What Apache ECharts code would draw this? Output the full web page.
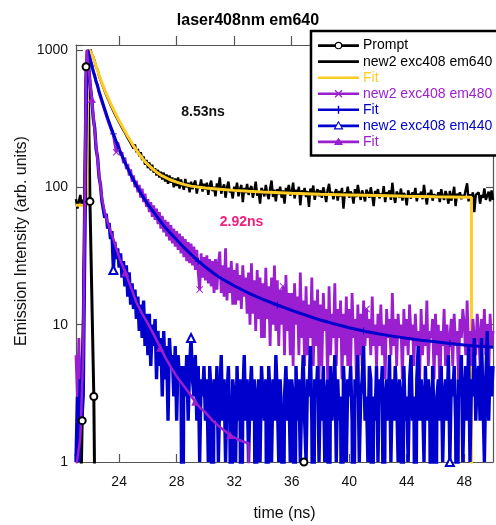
<!DOCTYPE html>
<html><head><meta charset="utf-8">
<script src="https://cdn.jsdelivr.net/npm/echarts@6/dist/echarts.min.js"></script>
<style>html,body{margin:0;padding:0;background:#fff}#c{width:496px;height:525px}</style>
</head><body><div id="c"></div>
<script>
// ---------- data ----------
const T0 = 21.0, DT = 0.1;            // sampling grid of the measured decays (ns), one row = 1 ns
const em640 = [
 82,70,79,88,74,81,77,85,300,900,
 1010,925,890,830,745,720,650,630,570,555,
 500,495,445,440,400,398,360,362,325,328,
 298,300,272,275,250,252,228,232,210,213,
 192,205,180,190,168,180,158,168,146,158,
 138,152,133,146,128,138,122,134,118,130,
 114,128,110,124,106,122,108,118,100,116,
 102,118,98,114,104,96,115,100,108,92,
 110,97,106,112,90,104,99,114,93,106,
 96,108,88,103,112,94,101,86,107,98,
 118,90,99,105,84,100,110,92,96,83,
 101,93,108,86,97,104,78,99,91,106,
 88,97,102,84,95,110,87,93,76,99,
 94,86,104,90,82,98,112,85,96,79,
 97,89,101,84,95,76,99,93,104,87,
 92,108,83,96,89,101,74,95,88,99,
 85,94,72,98,88,103,81,92,97,86,
 95,84,100,90,78,96,106,87,93,82,
 91,97,80,94,86,99,70,92,88,101,
 84,93,89,76,97,85,104,90,81,95,
 88,79,96,91,84,100,87,73,94,89,
 97,83,90,86,102,78,92,88,95,81,
 108,86,77,93,89,84,98,80,91,87,
 74,95,88,83,92,86,99,79,90,85,
 93,82,104,87,75,91,84,96,80,89,
 89,84,92,78,97,86,81,94,87,76,
 94,80,88,101,73,90,85,92,82,88,
 85,96,107,79,89,83,92,66,88,91,
 92,76,88,84,98,81,87,93,79,95,
 81];
const em480 = [
 6,3,8,2,5,9,60,420,1000,900,
 830,790,690,660,580,560,490,480,420,410,
 360,355,310,312,270,275,238,240,180,212,
 195,172,180,150,165,136,148,122,135,110,
 122,100,112,92,104,84,98,78,90,72,
 82,66,78,61,74,58,70,54,66,50,
 62,47,58,44,56,41,53,39,50,37,
 48,35,46,33,44,31,42,29,40,28,
 39,27,37,25,35,24,18,33,22,31,
 21,32,20,30,19,29,17,30,18,28,
 34,17,27,16,36,15,26,17,29,14,
 25,14,28,15,23,13,27,16,22,12,
 24,10,28,12,21,9,25,11,22,8,
 20,8,26,11,19,7,22,10,27,9,
 21,7,18,10,19,6,23,9,17,6,
 17,5,20,10,16,6,24,8,15,5,
 19,6,14,8,22,5,15,7,18,4,
 14,5,17,9,13,4,19,6,12,8,
 20,5,13,8,15,4,12,6,16,5,
 13,5,17,8,11,4,14,6,12,5,
 15,7,13,8,11,6,16,7,10,5,
 12,7,14,6,10,4,13,8,11,6,
 17,7,11,5,12,8,10,4,13,7,
 11,6,14,8,10,5,12,7,9,4,
 13,6,10,7,15,5,9,8,11,4,
 12,6,10,3,9,7,13,5,10,6,
 8,11,5,12,7,9,4,11,8,13,
 10,6,15,7,9,5,11,8,6,12,
 9,5,11,7,13,6,10,4,12,7,
 9];
const em440 = [
 1,3,1,4,2,3,30,500,1000,700,
 540,430,320,270,190,165,120,104,80,78,
 60,64,50,55,42,48,25,40,30,36,
 26,33,22,29,19,27,16,24,14,20,
 13,18,11,16,9,14,8,15,7,12,
 6,12,5,10,7,11,4,9,5,8,
 3,9,4,7,2,8,5,6,3,7,
 2,6,4,5,0,5,3,6,2,5,
 8,4,3,6,2,5,1,4,3,5,
 2,4,1,5,3,0,4,2,5,1,
 3,6,2,4,1,3,5,2,0,4,
 3,1,5,2,4,0,3,6,2,4,
 1,3,5,2,4,0,3,4,1,5,
 3,2,4,0,5,3,1,4,2,6,
 3,1,4,2,0,3,5,2,4,1,
 4,3,0,5,2,4,1,3,6,2,
 1,4,3,7,2,0,4,3,5,1,
 4,2,5,1,3,4,0,5,2,3,
 6,1,4,2,3,0,5,3,1,4,
 3,5,2,0,4,3,6,1,3,4,
 7,2,3,1,5,4,0,3,2,5,
 1,4,3,5,0,3,4,2,6,1,
 4,2,5,3,1,4,3,0,5,2,
 3,1,4,6,2,3,0,4,7,2,
 4,3,1,5,2,4,3,0,5,2,
 0,3,4,2,5,1,3,4,2,6,
 1,4,3,5,2,0,4,3,6,1,
 3,5,2,7,1,4,3,8,2,4,
 5,2,8,3,1,4,9,2,5,3,
 5];
const promptTime  = [21.0, 21.16, 21.43, 21.70, 21.82, 21.97, 22.24, 22.40, 36.6, 36.85, 37.1, 50.0];
const promptValue = [0, 0, 2, 755, 1000, 79, 3, 0, 0, 1, 0, 0];
const fit640Time  = [21.0,21.4,21.76,21.82,21.95,22.1,22.2,22.4,22.6,22.8,23.0,23.2,23.4,23.6,23.8,24.0,24.3,24.6,25.0,25.4,25.8,26.2,26.6,27.0,27.5,28.0,28.5,29.0,30.0,31.0,32.0,33.0,34.0,36.0,38.0,40.0,42.0,44.0,46.0,48.0,48.5,48.5];
const fit640Value = [74,74,73,960,1000,930,880,760,660,580,510,455,410,370,335,305,268,235,200,174,154,140,129,121,114,109,105,102,99,97,95,93.5,92.3,90.5,89,88,87,86,85.2,84.6,84.5,0];
const fit480Time  = [21.0,21.3,21.5,21.6,21.7,21.8,22.0,22.2,22.4,22.6,22.8,23.0,23.2,23.4,23.6,23.8,24.0,24.4,24.8,25.2,25.6,26.0,26.4,26.8,27.2,27.6,28.0,28.5,29.0,29.5,30.0,30.5,31.0,32.0,33.0,34.0,35.0,36.0,37.0,38.0,39.0,40.0,41.0,42.0,43.0,44.0,45.0,46.0,47.0,48.0,49.0,50.0];
const fit480Value = [1.1,2,8,40,300,1000,850,700,590,500,430,370,320,280,245,215,190,152,124,103,87,75,66,58,51,46,41.5,36.5,32.5,29,26.3,24,22,19.2,17,15.3,13.9,12.7,11.7,10.8,10.1,9.5,9.0,8.6,8.25,7.95,7.7,7.5,7.3,7.1,6.95,6.85];
const fit440Time  = [21.0,21.3,21.5,21.6,21.7,21.75,21.9,22.1,22.2,22.4,22.6,22.8,23.0,23.2,23.4,23.6,23.8,24.0,24.43,24.8,25.2,25.6,26.0,26.4,26.86,27.2,27.6,28.0,28.4,28.8,29.29,29.6,30.0,30.5,31.0,31.72,32.2,32.6,33.0,33.0];
const fit440Value = [0.9,1.5,6,60,800,1000,700,440,330,200,125,84,66,56,48,42,36,31,24,19,14.5,12,10.2,8.5,6.8,5.8,4.9,4.2,3.7,3.25,2.75,2.5,2.3,2.0,1.8,1.57,1.47,1.41,1.37,0];
// times at which the original plot shows markers
const promptMarkTimes = [21.43, 21.70, 21.97, 22.24, 36.85];
const em480MarkTimes  = [23.8, 29.6, 35.4, 41.2, 47.0];
const em440MarkTimes  = [23.6, 29.0, 47.0];
const fit480MarkTimes = [23.6, 29.5, 35.0, 41.0, 47.0];
const fit440MarkTimes = [22.1, 24.43, 26.86, 29.29, 31.72];
const xTicks = [24, 28, 32, 36, 40, 44, 48];
const legendNames = ['Prompt', 'new2 exc408 em640', 'Fit', 'new2 exc408 em480', 'Fit', 'new2 exc408 em440', 'Fit'];
const titleText = 'laser408nm em640';
const xTitle = 'time (ns)';
const yTitle = 'Emission Intensity (arb. units)';
const tau640Text = '8.53ns';
const tau480Text = '2.92ns';

// ---------- rendering ----------
const FONT = '"Liberation Sans", Arial, Helvetica, sans-serif';
const BLACK = '#000000', YELLOW = '#ffcc26', PURPLE = '#9a1fd0', BLUE = '#0000cc', PINK = '#f0207a', AXIS = '#555555';
const LOG_FLOOR = 0.05; // zero counts drawn below the log axis
const sampleTime = em640.map((_, i) => +(T0 + i * DT).toFixed(2));
const XMARK = 'path://M0,1L1,0L5,4L9,0L10,1L6,5L10,9L9,10L5,6L1,10L0,9L4,5Z';
const PLUS = 'path://M4.3,0H5.7V4.3H10V5.7H5.7V10H4.3V5.7H0V4.3H4.3Z';

function mk(times, vals, markTimes) {
  return vals.map((v, i) => {
    const t = times[i];
    const item = { value: [t, Math.max(v, LOG_FLOOR)] };
    if (!markTimes.some(m => Math.abs(m - t) < 1e-6)) item.symbol = 'none';
    return item;
  });
}
function lineSeries(name, data, color, width, symbol, size, border) {
  return {
    type: 'line', name, data, xAxisIndex: 0, yAxisIndex: 0,
    symbol, symbolSize: size, showSymbol: true, showAllSymbol: true,
    color, lineStyle: { color, width, join: 'bevel' },
    itemStyle: { color, borderColor: color, borderWidth: border },
    emphasis: { disabled: true }, clip: true, silent: true
  };
}

const series = [
  lineSeries('Prompt', mk(promptTime, promptValue, promptMarkTimes), BLACK, 3, 'emptyCircle', 7, 1),
  lineSeries('em640', mk(sampleTime, em640, []), BLACK, 2.4, 'none', 0, 0),
  lineSeries('fit640', mk(fit640Time, fit640Value, []), YELLOW, 3, 'none', 0, 0),
  lineSeries('em480', mk(sampleTime, em480, em480MarkTimes), PURPLE, 2.8, XMARK, 7, 0),
  lineSeries('fit480', mk(fit480Time, fit480Value, fit480MarkTimes), BLUE, 3, PLUS, 7, 0),
  lineSeries('em440', mk(sampleTime, em440, em440MarkTimes), BLUE, 3.4, 'emptyTriangle', 8, 1),
  lineSeries('fit440', mk(fit440Time, fit440Value, fit440MarkTimes), PURPLE, 2.5, 'triangle', 8, 0)
];

// legend (drawn as graphics, mirrors the boxed legend of the original)
const legendSpec = [
  { line: BLACK, text: BLACK, mark: 'circle' },
  { line: BLACK, text: BLACK, mark: null },
  { line: YELLOW, text: YELLOW, mark: null },
  { line: PURPLE, text: PURPLE, mark: 'x' },
  { line: BLUE, text: BLUE, mark: 'plus' },
  { line: BLUE, text: BLUE, mark: 'otri' },
  { line: PURPLE, text: PURPLE, mark: 'tri' }
];
const LX0 = 318, LX1 = 359, LY0 = 45.6, LDY = 16.05, LMX = 338.5;
const graphics = [
  { type: 'rect', z: 100, shape: { x: 311, y: 31, width: 200, height: 124.5 },
    style: { fill: '#fff', stroke: '#000', lineWidth: 2.5 } }
];
legendNames.forEach((name, k) => {
  const s = legendSpec[k], y = LY0 + LDY * k;
  graphics.push({ type: 'line', z: 101, shape: { x1: LX0, y1: y, x2: LX1, y2: y },
    style: { stroke: s.line, lineWidth: 2.6 } });
  if (s.mark === 'circle') graphics.push({ type: 'circle', z: 102, shape: { cx: LMX, cy: y, r: 3.2 },
    style: { fill: '#fff', stroke: s.line, lineWidth: 1.1 } });
  if (s.mark === 'x') {
    graphics.push({ type: 'line', z: 102, shape: { x1: LMX - 3.5, y1: y - 3.5, x2: LMX + 3.5, y2: y + 3.5 }, style: { stroke: s.line, lineWidth: 1.2 } });
    graphics.push({ type: 'line', z: 102, shape: { x1: LMX - 3.5, y1: y + 3.5, x2: LMX + 3.5, y2: y - 3.5 }, style: { stroke: s.line, lineWidth: 1.2 } });
  }
  if (s.mark === 'plus') graphics.push({ type: 'line', z: 102, shape: { x1: LMX, y1: y - 4, x2: LMX, y2: y + 4 }, style: { stroke: s.line, lineWidth: 1.4 } });
  if (s.mark === 'otri') graphics.push({ type: 'polygon', z: 102, shape: { points: [[LMX, y - 4], [LMX - 4, y + 3], [LMX + 4, y + 3]] },
    style: { fill: '#fff', stroke: s.line, lineWidth: 1.1 } });
  if (s.mark === 'tri') graphics.push({ type: 'polygon', z: 102, shape: { points: [[LMX, y - 4.5], [LMX - 4.5, y + 3], [LMX + 4.5, y + 3]] },
    style: { fill: s.line } });
  graphics.push({ type: 'text', z: 102, x: 363, y: y, style: { text: name, fill: s.text, font: '14px ' + FONT,
    textAlign: 'left', textVerticalAlign: 'middle', verticalAlign: 'middle' } });
});
graphics.push(
  { type: 'text', z: 50, x: 248, y: 21, style: { text: titleText, fill: '#000', font: 'bold 16px ' + FONT, textAlign: 'center', align: 'center', verticalAlign: 'middle', textVerticalAlign: 'middle' } },
  { type: 'text', z: 50, x: 284.5, y: 514, style: { text: xTitle, fill: '#111', font: '16px ' + FONT, textAlign: 'center', align: 'center', verticalAlign: 'middle', textVerticalAlign: 'middle' } },
  { type: 'text', z: 50, x: 21.7, y: 241, rotation: Math.PI / 2, style: { text: yTitle, fill: '#111', font: '16px ' + FONT, textAlign: 'center', align: 'center', verticalAlign: 'middle', textVerticalAlign: 'middle' } },
  { type: 'text', z: 50, x: 203, y: 112.5, style: { text: tau640Text, fill: '#111', font: 'bold 14px ' + FONT, textAlign: 'center', align: 'center', verticalAlign: 'middle', textVerticalAlign: 'middle' } },
  { type: 'text', z: 50, x: 241.5, y: 222, style: { text: tau480Text, fill: PINK, font: 'bold 14px ' + FONT, textAlign: 'center', align: 'center', verticalAlign: 'middle', textVerticalAlign: 'middle' } }
);

function logLabel(v) {
  const l = Math.log10(v);
  return Math.abs(l - Math.round(l)) < 1e-6 ? String(Math.round(v)) : '';
}
const axisLine = { show: true, onZero: false, lineStyle: { color: AXIS, width: 1.2 } };
const option = {
  animation: false,
  backgroundColor: '#fff',
  textStyle: { fontFamily: FONT },
  grid: { left: 76, right: 3, top: 45, bottom: 63, containLabel: false },
  xAxis: [
    { type: 'value', min: 21, max: 50, position: 'bottom', axisLine,
      axisTick: { show: true, inside: true, length: 8, customValues: xTicks, lineStyle: { color: AXIS, width: 1.2 } },
      axisLabel: { show: true, customValues: xTicks, fontSize: 14, margin: 13, color: '#111', fontFamily: FONT },
      splitLine: { show: false } },
    { type: 'value', min: 21, max: 50, position: 'top', axisLine,
      axisTick: { show: true, inside: false, length: 9, customValues: xTicks, lineStyle: { color: AXIS, width: 1.2 } },
      axisLabel: { show: false }, splitLine: { show: false } }
  ],
  yAxis: [
    { type: 'log', logBase: 10, min: 1, max: 1087, position: 'left', axisLine,
      axisTick: { show: true, inside: true, length: 7, lineStyle: { color: AXIS, width: 1.2 } },
      axisLabel: { show: true, formatter: logLabel, fontSize: 14, margin: 8, color: '#111', fontFamily: FONT },
      splitLine: { show: false }, minorTick: { show: false } },
    { type: 'log', logBase: 10, min: 1, max: 1087, position: 'right', axisLine,
      axisTick: { show: true, inside: true, length: 7, lineStyle: { color: AXIS, width: 1.2 } },
      axisLabel: { show: false }, splitLine: { show: false } }
  ],
  series,
  graphic: { elements: graphics }
};
const chart = echarts.init(document.getElementById('c'), null, { renderer: 'canvas' });
chart.setOption(option);
</script>
</body></html>
